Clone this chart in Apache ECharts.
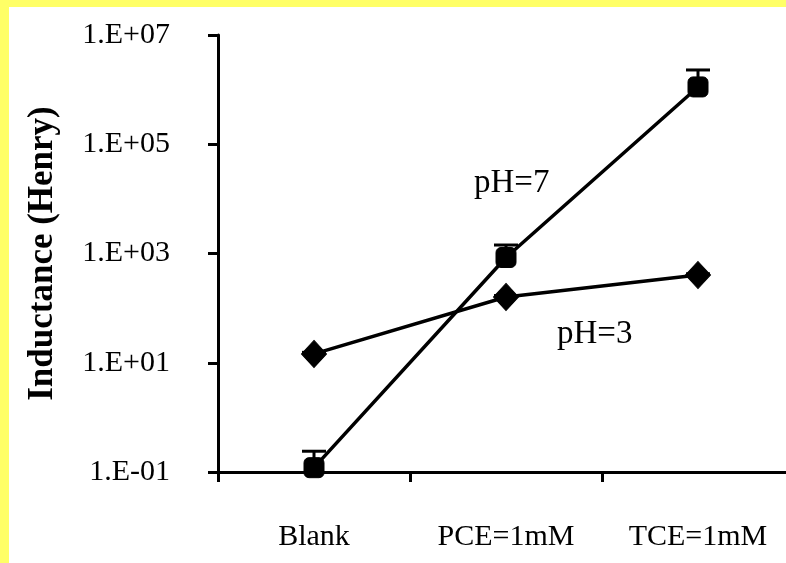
<!DOCTYPE html>
<html>
<head>
<meta charset="utf-8">
<script src="https://cdn.jsdelivr.net/npm/echarts@6/dist/echarts.min.js"></script>
<style>
html,body{margin:0;padding:0;background:#ffff66;width:786px;height:563px;overflow:hidden;}
#chart{position:absolute;left:9px;top:7px;width:777px;height:556px;background:#ffffff;}
</style>
</head>
<body>
<div id="chart"></div>
<script>
const categories = ['Blank', 'PCE=1mM', 'TCE=1mM'];
const ph7Values = [0.12, 845, 1.12e6];
const ph7Upper = [0.24, 1430, 2.29e6];
const ph3Values = [14.5, 160, 404];
const ph3Upper = [15.5, 170, 425];
const yTicks = ['1.E-01', '1.E+01', '1.E+03', '1.E+05', '1.E+07'];
const seriesNames = ['pH=7', 'pH=3'];

const FONT = '"Liberation Serif", "Times New Roman", serif';

function errData(vals, ups) {
  return vals.map((v, i) => [i, v, ups[i]]);
}
function errRender(params, api) {
  const p = api.coord([api.value(0), api.value(1)]);
  const q = api.coord([api.value(0), api.value(2)]);
  const hw = 12;
  const st = { stroke: '#000', lineWidth: 3 };
  return {
    type: 'group',
    children: [
      { type: 'line', shape: { x1: p[0], y1: p[1], x2: q[0], y2: q[1] }, style: st },
      { type: 'line', shape: { x1: q[0] - hw, y1: q[1], x2: q[0] + hw, y2: q[1] }, style: st }
    ]
  };
}

const chart = echarts.init(document.getElementById('chart'));
chart.setOption({
  animation: false,
  backgroundColor: '#ffffff',
  grid: { left: 209, top: 28, width: 576, height: 437, outerBoundsMode: 'none', containLabel: false },
  xAxis: {
    type: 'category',
    data: categories,
    boundaryGap: true,
    axisLine: { lineStyle: { color: '#000', width: 3 } },
    axisTick: { show: true, length: 10, lineStyle: { color: '#000', width: 3 } },
    axisLabel: { color: '#000', fontFamily: FONT, fontSize: 30, margin: 50 },
    splitLine: { show: false }
  },
  yAxis: {
    type: 'log',
    logBase: 10,
    min: 0.1,
    max: 1e7,
    interval: 2,
    name: 'Inductance (Henry)',
    nameLocation: 'middle',
    nameGap: 158,
    nameTextStyle: { color: '#000', fontFamily: FONT, fontSize: 35, fontWeight: 'bold' },
    axisLine: { show: true, lineStyle: { color: '#000', width: 3 } },
    axisTick: { show: true, length: 10, lineStyle: { color: '#000', width: 3 } },
    axisLabel: {
      color: '#000', fontFamily: FONT, fontSize: 30, margin: 48,
      formatter: function (v) {
        const e = Math.round(Math.log10(v));
        const idx = (e + 1) / 2;
        return yTicks[idx] !== undefined ? yTicks[idx] : '';
      }
    },
    minorTick: { show: false },
    splitLine: { show: false }
  },
  graphic: [
    { type: 'text', left: 465, top: 160, style: { text: seriesNames[0], fill: '#000', font: '33px ' + FONT } },
    { type: 'text', left: 548, top: 311, style: { text: seriesNames[1], fill: '#000', font: '33px ' + FONT } }
  ],
  series: [
    {
      type: 'custom', name: 'err7', renderItem: errRender, data: errData(ph7Values, ph7Upper), z: 1,
      encode: { x: 0, y: [1, 2] }
    },
    {
      type: 'custom', name: 'err3', renderItem: errRender, data: errData(ph3Values, ph3Upper), z: 1,
      encode: { x: 0, y: [1, 2] }
    },
    {
      type: 'line', name: seriesNames[0], data: ph7Values, z: 3,
      symbol: 'roundRect', symbolSize: [20, 20],
      lineStyle: { color: '#000', width: 3.5 },
      itemStyle: { color: '#000', borderColor: '#000' }
    },
    {
      type: 'line', name: seriesNames[1], data: ph3Values, z: 3,
      symbol: 'diamond', symbolSize: [25, 27],
      lineStyle: { color: '#000', width: 3.5 },
      itemStyle: { color: '#000', borderColor: '#000' }
    }
  ]
});
</script>
</body>
</html>
